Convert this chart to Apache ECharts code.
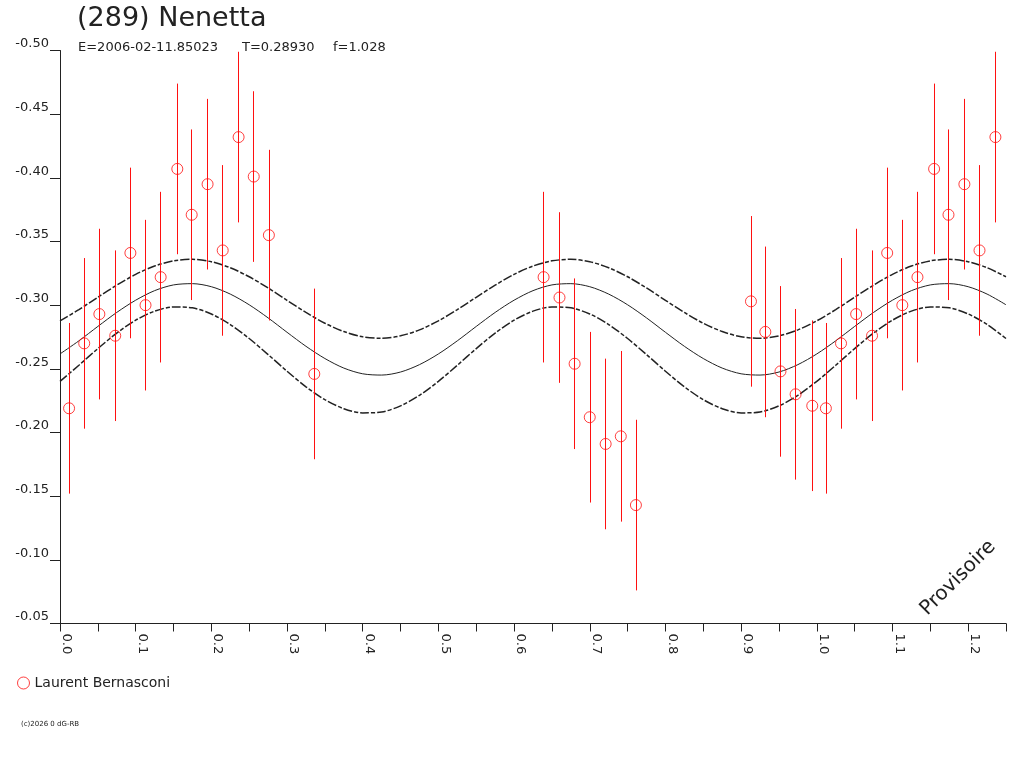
<!DOCTYPE html>
<html>
<head>
<meta charset="utf-8">
<script src="https://cdn.jsdelivr.net/npm/echarts@6/dist/echarts.min.js"></script>
<style>
  html, body { margin: 0; padding: 0; background: #fff; }
  #chart { width: 1024px; height: 768px; }
</style>
</head>
<body>
<div id="chart"></div>
<script>
// observations (phase, reduced magnitude, 1-sigma error)
const phases = [0.012, 0.032, 0.052, 0.073, 0.093, 0.113, 0.133, 0.155, 0.174, 0.195,
  0.215, 0.236, 0.256, 0.276, 0.336, 0.639, 0.660, 0.680, 0.700, 0.721, 0.741, 0.761,
  0.913, 0.932, 0.952, 0.972, 0.994];
const mags = [-0.219, -0.270, -0.293, -0.276, -0.341, -0.300, -0.322, -0.407, -0.371, -0.395,
  -0.343, -0.432, -0.401, -0.355, -0.246, -0.322, -0.306, -0.254, -0.212, -0.191, -0.197, -0.143,
  -0.303, -0.279, -0.248, -0.230, -0.221];
const errs = [0.067, 0.067, 0.067, 0.067, 0.067, 0.067, 0.067, 0.067, 0.067, 0.067,
  0.067, 0.067, 0.067, 0.067, 0.067, 0.067, 0.067, 0.067, 0.067, 0.067, 0.067, 0.067,
  0.067, 0.067, 0.067, 0.067, 0.067];

// fitted curve and its envelope, read every 0.025 in phase
const curvePhase = [0.000, 0.025, 0.050, 0.075, 0.100, 0.125, 0.150, 0.175, 0.200, 0.225,
  0.250, 0.275, 0.300, 0.325, 0.350, 0.375, 0.400, 0.425, 0.450, 0.475,
  0.500, 0.525, 0.550, 0.575, 0.600, 0.625, 0.650, 0.675, 0.700, 0.725,
  0.750, 0.775, 0.800, 0.825, 0.850, 0.875, 0.900, 0.925, 0.950, 0.975];
const curveMid = [-0.2617, -0.2720, -0.2833, -0.2943, -0.3039, -0.3114, -0.3159, -0.3169, -0.3145, -0.3087,
  -0.3003, -0.2900, -0.2787, -0.2677, -0.2581, -0.2506, -0.2461, -0.2451, -0.2475, -0.2533,
  -0.2617, -0.2720, -0.2833, -0.2943, -0.3039, -0.3114, -0.3159, -0.3169, -0.3145, -0.3087,
  -0.3003, -0.2900, -0.2787, -0.2677, -0.2581, -0.2506, -0.2461, -0.2451, -0.2475, -0.2533];
const curveUp = [-0.2877, -0.2965, -0.3062, -0.3157, -0.3242, -0.3307, -0.3348, -0.3360, -0.3341, -0.3294,
  -0.3223, -0.3135, -0.3038, -0.2943, -0.2858, -0.2793, -0.2752, -0.2740, -0.2759, -0.2806,
  -0.2877, -0.2965, -0.3062, -0.3157, -0.3242, -0.3307, -0.3348, -0.3360, -0.3341, -0.3294,
  -0.3223, -0.3135, -0.3038, -0.2943, -0.2858, -0.2793, -0.2752, -0.2740, -0.2759, -0.2806];
const curveLow = [-0.2402, -0.2528, -0.2659, -0.2781, -0.2882, -0.2953, -0.2986, -0.2979, -0.2931, -0.2848,
  -0.2738, -0.2612, -0.2481, -0.2359, -0.2258, -0.2187, -0.2154, -0.2161, -0.2209, -0.2292,
  -0.2402, -0.2528, -0.2659, -0.2781, -0.2882, -0.2953, -0.2986, -0.2979, -0.2931, -0.2848,
  -0.2738, -0.2612, -0.2481, -0.2359, -0.2258, -0.2187, -0.2154, -0.2161, -0.2209, -0.2292];

const yTicks = [-0.50, -0.45, -0.40, -0.35, -0.30, -0.25, -0.20, -0.15, -0.10, -0.05];
const xMax = 1.25;
const observer = 'Laurent Bernasconi';

// phases up to xMax-1 are drawn a second time one cycle later
function fold(xs, cols) {
  const out = xs.map((x, i) => [x].concat(cols.map(c => c[i])));
  xs.forEach((x, i) => {
    if (x + 1 <= xMax + 1e-9) out.push([+(x + 1).toFixed(3)].concat(cols.map(c => c[i])));
  });
  return out;
}

const pts = fold(phases, [mags, errs]);
const bars = pts.map(p => ({ coords: [[p[0], p[1] - p[2]], [p[0], p[1] + p[2]]] }));
const mid = fold(curvePhase, [curveMid]);
const up = fold(curvePhase, [curveUp]);
const low = fold(curvePhase, [curveLow]);

const red = '#ff1010';
const ink = '#222';
const font = '"DejaVu Sans", sans-serif';

const chart = echarts.init(document.getElementById('chart'), null, { renderer: 'canvas' });

chart.setOption({
  backgroundColor: '#fff',
  animation: false,
  textStyle: { fontFamily: font, color: ink },
  grid: { left: 60, right: 18, top: 50.5, bottom: 144.5 },
  legend: {
    left: 12, top: 671, padding: 5,
    itemWidth: 12, itemHeight: 12, itemGap: 10,
    data: [observer],
    itemStyle: { borderWidth: 1 },
    textStyle: { fontSize: 14, color: ink, fontFamily: font, padding: [0, 0, 0, 0] }
  },
  graphic: [
    { type: 'text', left: 77, top: 5, style: { text: '(289) Nenetta', font: '27px ' + font, fill: ink } },
    { type: 'text', left: 78, top: 41, style: { text: 'E=2006-02-11.85023', font: '13px ' + font, fill: ink } },
    { type: 'text', left: 242, top: 41, style: { text: 'T=0.28930', font: '13px ' + font, fill: ink } },
    { type: 'text', left: 333, top: 41, style: { text: 'f=1.028', font: '13px ' + font, fill: ink } },
    { type: 'text', x: 958, y: 578, rotation: Math.PI / 4,
      style: { text: 'Provisoire', font: '20px ' + font, fill: ink, align: 'center', verticalAlign: 'middle' } },
    { type: 'text', left: 21, top: 721, style: { text: '(c)2026 0 dG-RB', font: '7px ' + font, fill: ink } }
  ],
  xAxis: {
    type: 'value',
    min: 0, max: xMax, interval: 0.05,
    splitLine: { show: false },
    axisLine: { onZero: false, lineStyle: { color: ink, width: 1 } },
    axisTick: { length: 8, lineStyle: { color: ink } },
    axisLabel: {
      rotate: -90, margin: 10, fontSize: 13, color: ink,
      verticalAlign: 'bottom',
      formatter: v => (Math.round(v * 100) % 10 === 0 && v < xMax - 0.01) ? v.toFixed(1) : ''
    }
  },
  yAxis: {
    type: 'value',
    inverse: true,
    min: yTicks[0], max: yTicks[yTicks.length - 1], interval: 0.05,
    splitLine: { show: false },
    axisLine: { show: true, onZero: false, lineStyle: { color: ink, width: 1 } },
    axisTick: { show: true, length: 10, lineStyle: { color: ink } },
    axisLabel: {
      margin: 11, fontSize: 13, color: ink, verticalAlign: 'bottom',
      formatter: v => v.toFixed(2)
    }
  },
  series: [
    {
      name: 'fit', type: 'line', data: mid, smooth: 0.3, showSymbol: false,
      lineStyle: { color: ink, width: 1 }, silent: true, z: 2
    },
    {
      name: 'fit+', type: 'line', data: up, smooth: 0.3, showSymbol: false,
      lineStyle: { color: ink, width: 1.5, type: [9, 2, 4, 2] }, silent: true, z: 2
    },
    {
      name: 'fit-', type: 'line', data: low, smooth: 0.3, showSymbol: false,
      lineStyle: { color: ink, width: 1.5, type: [9, 2, 4, 2] }, silent: true, z: 2
    },
    {
      name: 'errors', type: 'lines', coordinateSystem: 'cartesian2d',
      data: bars, silent: true,
      lineStyle: { color: red, width: 1, opacity: 1, curveness: 0 },
      z: 3
    },
    {
      name: observer, type: 'scatter', data: pts.map(p => [p[0], p[1]]),
      symbol: 'circle', symbolSize: 11,
      itemStyle: { color: 'rgba(255,255,255,0)', borderColor: red, borderWidth: 1 },
      z: 4
    }
  ]
});
</script>
</body>
</html>
